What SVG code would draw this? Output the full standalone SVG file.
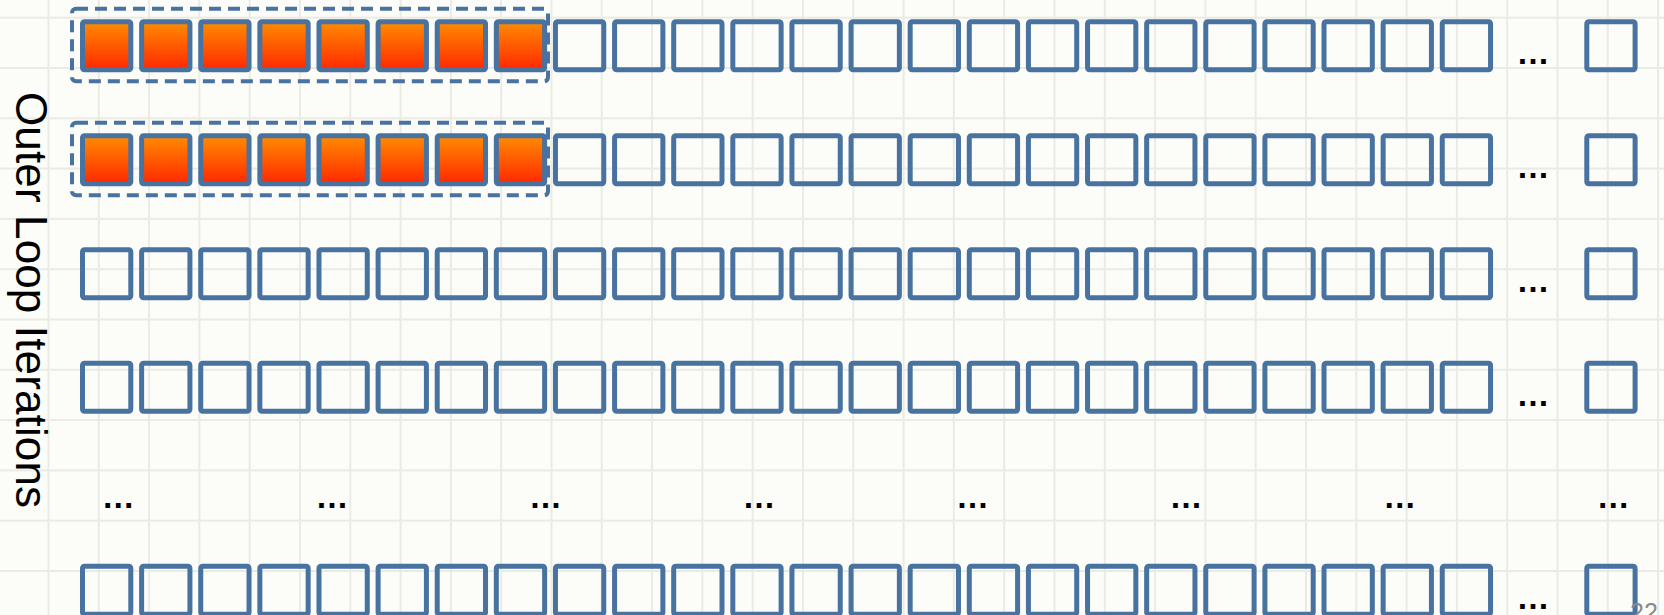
<svg xmlns="http://www.w3.org/2000/svg" xmlns:xlink="http://www.w3.org/1999/xlink" width="1664" height="615" viewBox="0 0 1664 615">
<style>
.box{fill:none;stroke:#4872a0;stroke-width:5;stroke-linejoin:round}
.hot{fill:url(#og);stroke:#4872a0;stroke-width:5;stroke-linejoin:round}
.sel{fill:none;stroke:#4872a0;stroke-width:4;stroke-dasharray:12 7}
.dots{font-family:"Liberation Sans",Arial,sans-serif;font-weight:bold;font-size:33px;fill:#000;text-anchor:middle}
.lbl{font-family:"Liberation Sans",Arial,sans-serif;font-size:44px;fill:#000}
.pg{font-family:"Liberation Sans",Arial,sans-serif;font-size:25px;fill:#8a8a8a}
</style>
<defs>
<linearGradient id="og" x1="0" y1="0" x2="0" y2="1">
<stop offset="0" stop-color="#ff8c00"/>
<stop offset="1" stop-color="#ff2800"/>
</linearGradient>
<pattern id="grid" patternUnits="userSpaceOnUse" x="-2.8" y="16.7" width="50.3" height="50.3">
<rect x="0" y="0" width="2" height="50.3" fill="#ebebe5"/>
<rect x="0" y="0" width="50.3" height="2" fill="#ebebe5"/>
</pattern>
<g id="head">
<rect class="box" x="82.5" y="0" width="48.3" height="48" rx="2"/>
<rect class="box" x="141.62" y="0" width="48.3" height="48" rx="2"/>
<rect class="box" x="200.74" y="0" width="48.3" height="48" rx="2"/>
<rect class="box" x="259.86" y="0" width="48.3" height="48" rx="2"/>
<rect class="box" x="318.98" y="0" width="48.3" height="48" rx="2"/>
<rect class="box" x="378.1" y="0" width="48.3" height="48" rx="2"/>
<rect class="box" x="437.22" y="0" width="48.3" height="48" rx="2"/>
<rect class="box" x="496.34" y="0" width="48.3" height="48" rx="2"/>
</g>
<g id="hothead">
<rect class="hot" x="82.5" y="0" width="48.3" height="48" rx="2"/>
<rect class="hot" x="141.62" y="0" width="48.3" height="48" rx="2"/>
<rect class="hot" x="200.74" y="0" width="48.3" height="48" rx="2"/>
<rect class="hot" x="259.86" y="0" width="48.3" height="48" rx="2"/>
<rect class="hot" x="318.98" y="0" width="48.3" height="48" rx="2"/>
<rect class="hot" x="378.1" y="0" width="48.3" height="48" rx="2"/>
<rect class="hot" x="437.22" y="0" width="48.3" height="48" rx="2"/>
<rect class="hot" x="496.34" y="0" width="48.3" height="48" rx="2"/>
</g>
<g id="tail">
<rect class="box" x="555.46" y="0" width="48.3" height="48" rx="2"/>
<rect class="box" x="614.58" y="0" width="48.3" height="48" rx="2"/>
<rect class="box" x="673.7" y="0" width="48.3" height="48" rx="2"/>
<rect class="box" x="732.82" y="0" width="48.3" height="48" rx="2"/>
<rect class="box" x="791.94" y="0" width="48.3" height="48" rx="2"/>
<rect class="box" x="851.06" y="0" width="48.3" height="48" rx="2"/>
<rect class="box" x="910.18" y="0" width="48.3" height="48" rx="2"/>
<rect class="box" x="969.3" y="0" width="48.3" height="48" rx="2"/>
<rect class="box" x="1028.42" y="0" width="48.3" height="48" rx="2"/>
<rect class="box" x="1087.54" y="0" width="48.3" height="48" rx="2"/>
<rect class="box" x="1146.66" y="0" width="48.3" height="48" rx="2"/>
<rect class="box" x="1205.78" y="0" width="48.3" height="48" rx="2"/>
<rect class="box" x="1264.9" y="0" width="48.3" height="48" rx="2"/>
<rect class="box" x="1324.02" y="0" width="48.3" height="48" rx="2"/>
<rect class="box" x="1383.14" y="0" width="48.3" height="48" rx="2"/>
<rect class="box" x="1442.26" y="0" width="48.3" height="48" rx="2"/>
<text class="dots" x="1533" y="42.7">…</text>
<rect class="box" x="1586.8" y="0" width="48.3" height="48" rx="2"/>
</g>
</defs>
<rect width="1664" height="615" fill="#fcfcf8"/>
<rect width="1664" height="615" fill="url(#grid)"/>
<text id="axis-label" class="lbl" transform="translate(16,92) rotate(90)" textLength="416">Outer Loop Iterations</text>
<g id="row1" transform="translate(0,21.8)">
<use xlink:href="#hothead"/>
<use xlink:href="#tail"/>
</g>
<g id="row2" transform="translate(0,135.8)">
<use xlink:href="#hothead"/>
<use xlink:href="#tail"/>
</g>
<g id="row3" transform="translate(0,249.8)">
<use xlink:href="#head"/>
<use xlink:href="#tail"/>
</g>
<g id="row4" transform="translate(0,363.3)">
<use xlink:href="#head"/>
<use xlink:href="#tail"/>
</g>
<g id="row5">
<text class="dots" x="118.3" y="507.5">…</text>
<text class="dots" x="331.9" y="507.5">…</text>
<text class="dots" x="545.4" y="507.5">…</text>
<text class="dots" x="759" y="507.5">…</text>
<text class="dots" x="972.6" y="507.5">…</text>
<text class="dots" x="1186.1" y="507.5">…</text>
<text class="dots" x="1399.7" y="507.5">…</text>
<text class="dots" x="1613.3" y="507.5">…</text>
</g>
<g id="row6" transform="translate(0,566.3)">
<use xlink:href="#head"/>
<use xlink:href="#tail"/>
</g>
<g id="selections">
<rect id="sel1" class="sel" x="72" y="8.7" width="476" height="72.6" rx="4"/>
<rect id="sel2" class="sel" x="72" y="122.7" width="476" height="72.6" rx="4"/>
</g>
<g id="connectors"/>
<text id="page-number" class="pg" x="1630" y="621">22</text>
</svg>
